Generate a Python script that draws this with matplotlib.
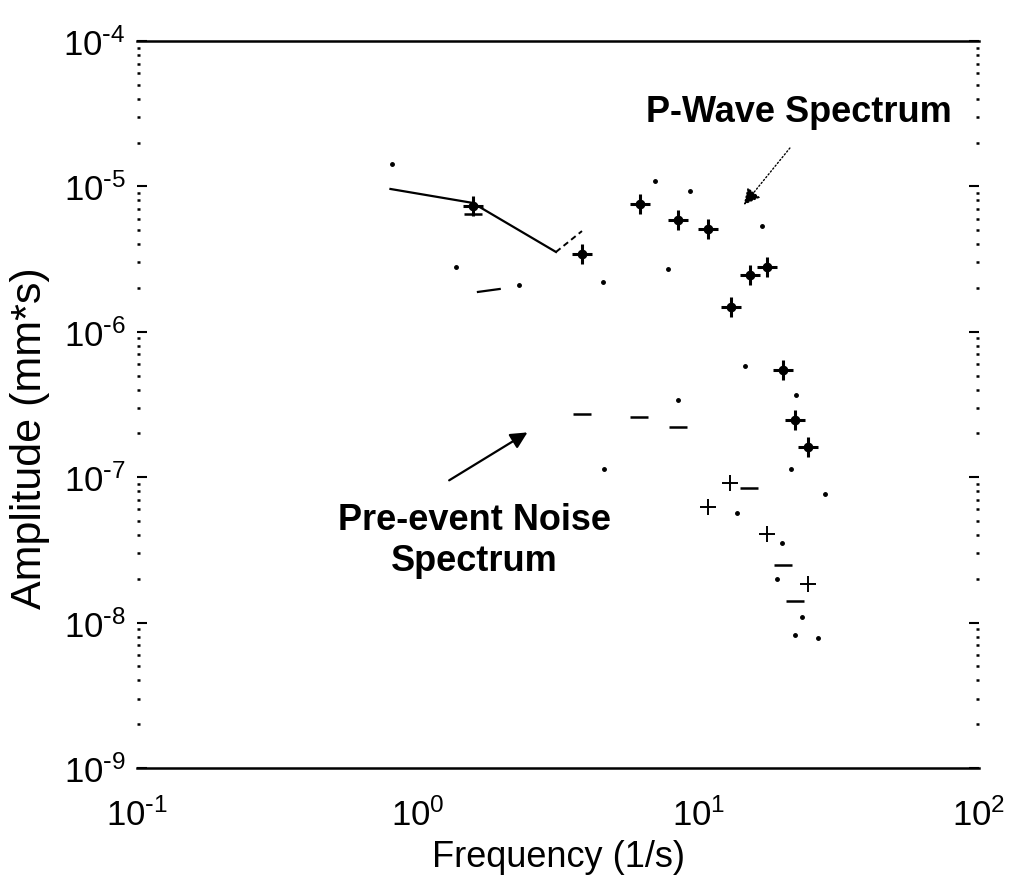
import numpy as np
import matplotlib
matplotlib.use("Agg")
import matplotlib.pyplot as plt
from matplotlib.ticker import FuncFormatter

plt.rcParams['font.family'] = ['Liberation Sans', 'DejaVu Sans']
plt.rcParams['mathtext.default'] = 'regular'

# decade ticks
x_ticks = [1e-1, 1e0, 1e1, 1e2]
y_ticks = [1e-9, 1e-8, 1e-7, 1e-6, 1e-5, 1e-4]

# P-wave spectrum: the part of the line that survived the scan
pwave_line_freq = [0.80, 1.57, 3.11]
pwave_line_amp = [9.6e-6, 7.7e-6, 3.54e-6]
pwave_tail_freq = [3.11, 3.85]
pwave_tail_amp = [3.54e-6, 4.93e-6]

# P-wave spectrum, '+' symbols
pwave_freq = [1.57, 3.85, 6.2, 8.45, 10.8, 13.1, 15.3, 17.5, 20.0, 22.1, 24.5]
pwave_amp = [7.33e-6, 3.43e-6, 7.57e-6, 5.87e-6, 5.09e-6, 1.48e-6, 2.46e-6,
             2.79e-6, 5.46e-7, 2.47e-7, 1.61e-7]

# pre-event noise spectrum, dash symbols
noise_dash_freq = [1.57, 3.85, 6.14, 8.45, 15.1, 20.0, 22.1]
noise_dash_amp = [6.45e-6, 2.72e-7, 2.6e-7, 2.2e-7, 8.4e-8, 2.5e-8, 1.41e-8]
# pre-event noise spectrum, small '+' symbols
noise_plus_freq = [10.8, 13.0, 17.5, 24.5]
noise_plus_amp = [6.2e-8, 9.1e-8, 4.1e-8, 1.84e-8]
# short visible piece of the noise line
noise_line_freq = [1.64, 1.96]
noise_line_amp = [1.88e-6, 1.97e-6]

# faded leftovers of both lines (dots)
faint_freq = [0.81, 1.37, 2.30, 4.57, 7.0, 7.8, 9.33, 16.9, 14.7, 22.2, 21.4,
              28.2, 4.6, 8.45, 13.7, 19.9, 19.1, 23.4, 22.1, 26.7]
faint_amp = [1.43e-5, 2.8e-6, 2.1e-6, 2.2e-6, 1.09e-5, 2.7e-6, 9.3e-6, 5.3e-6,
             5.8e-7, 3.7e-7, 1.14e-7, 7.7e-8, 1.14e-7, 3.4e-7, 5.7e-8, 3.5e-8,
             2.0e-8, 1.1e-8, 8.2e-9, 7.8e-9]


def decade_label(v, pos):
    e = int(round(np.log10(v)))
    s = str(e).replace('-', r'\text{-}')
    return r'$10^{%s}$' % s


fig = plt.figure(figsize=(10.13, 8.79), dpi=100)
ax = fig.add_axes([137/1013, 1 - 769/879, 842/1013, 727/879])
ax.set_xscale('log')
ax.set_yscale('log')
ax.set_xticks(x_ticks)
ax.set_yticks(y_ticks)
ax.set_xlim(0.1, 100)
ax.set_ylim(1e-9, 1e-4)
ax.xaxis.set_major_formatter(FuncFormatter(decade_label))
ax.yaxis.set_major_formatter(FuncFormatter(decade_label))

ax.plot(pwave_line_freq, pwave_line_amp, color='black', lw=1.6)
ax.plot(pwave_tail_freq, pwave_tail_amp, color='black', lw=1.4, ls=(0, (3, 2)))
ax.plot(noise_line_freq, noise_line_amp, color='black', lw=1.6)

ax.plot(pwave_freq, pwave_amp, ls='none', marker='+', ms=15, mew=2.2, color='black')
ax.plot(pwave_freq, pwave_amp, ls='none', marker='o', ms=6, color='black')

ax.plot(noise_dash_freq, noise_dash_amp, ls='none', marker='_', ms=13, mew=1.8, color='black')
ax.plot(noise_plus_freq, noise_plus_amp, ls='none', marker='+', ms=11, mew=1.4, color='black')
ax.plot(faint_freq, faint_amp, ls='none', marker='o', ms=2.5, color='black')

# arrows
ax.annotate('', xy=(14.3, 7.2e-6), xytext=(21.5, 1.9e-5),
            arrowprops=dict(arrowstyle='-|>,head_length=1.0,head_width=0.5',
                            color='black', lw=1.0, ls=':'))
ax.annotate('', xy=(2.51, 2.08e-7), xytext=(1.27, 9.3e-8),
            arrowprops=dict(arrowstyle='-|>,head_length=1.0,head_width=0.5',
                            color='black', lw=1.6))

fig.text(952/1013, 1 - 112/879, 'P-Wave Spectrum', fontsize=26, fontweight='bold',
         ha='right', va='center')
fig.text(474/1013, 1 - 541/879, 'Pre-event Noise\nSpectrum', fontsize=26,
         fontweight='bold', ha='center', va='center', linespacing=1.25)

ax.set_xlabel('Frequency (1/s)', fontsize=26)
ax.set_ylabel('Amplitude (mm*s)', fontsize=31)
ax.xaxis.set_label_coords(0.5, -0.097)
ax.yaxis.set_label_coords(-0.103, 0.455)

for side in ['left', 'right']:
    ax.spines[side].set_visible(False)
for side in ['top', 'bottom']:
    ax.spines[side].set_linewidth(1.8)

ax.tick_params(axis='x', which='both', length=0, labelsize=25, pad=21)
ax.tick_params(axis='y', which='both', left=True, right=True, direction='in',
               labelsize=25, pad=8)
ax.tick_params(axis='y', which='major', length=7, width=1.5)
ax.tick_params(axis='y', which='minor', length=2.5, width=1.8)

fig.savefig('out.png', dpi=100, facecolor='white')
